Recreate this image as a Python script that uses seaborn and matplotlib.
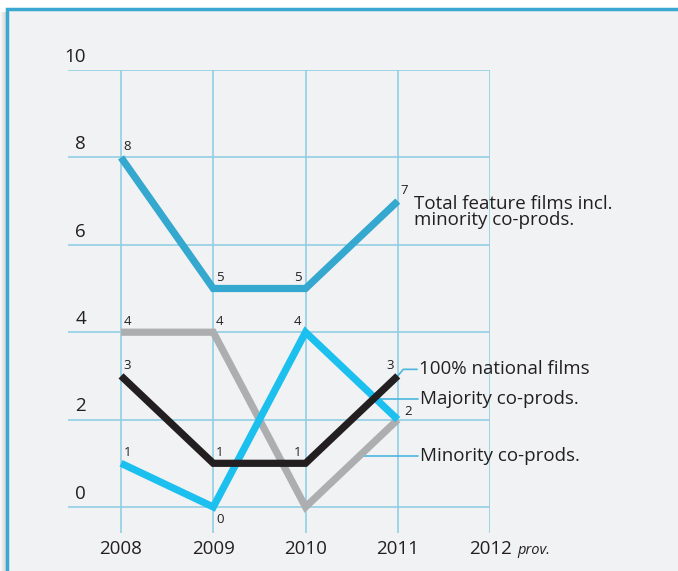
import matplotlib
matplotlib.use("Agg")
import matplotlib.pyplot as plt
from matplotlib.patches import Rectangle
import seaborn as sns
import pandas as pd

# data
years = [2008, 2009, 2010, 2011]
total_films = [8, 5, 5, 7]
minority = [4, 4, 0, 2]
majority = [1, 0, 4, 2]
national = [3, 1, 1, 3]
y_ticks = [0, 2, 4, 6, 8, 10]
x_ticks = [2008, 2009, 2010, 2011, 2012]

sns.set_theme(style="white")
plt.rcParams["font.family"] = ["Open Sans", "DejaVu Sans"]

W, H = 678, 571
fig = plt.figure(figsize=(W / 100, H / 100), dpi=100)
fig.patch.set_facecolor("white")

# background frame with a soft shadow on the left, in pixel coordinates
bg = fig.add_axes([0, 0, 1, 1], zorder=-1)
bg.set_xlim(0, W)
bg.set_ylim(H, 0)
bg.axis("off")
for i in range(7, 0, -1):
    bg.add_patch(Rectangle((7 - i, 12), 700, 600, facecolor="#8a8a8a",
                           edgecolor="none", alpha=0.06))
bg.add_patch(Rectangle((7, 9), 700, 600, facecolor="#f1f2f4", edgecolor="#3aa8d0", lw=2.5))

ax = fig.add_axes([68 / W, (H - 533) / H, (490 - 68) / W, (533 - 70) / H])
ax.set_facecolor("none")
ax.set_xlim(2007.425, 2012)
ax.set_ylim(-0.595, 10)
for s in ax.spines.values():
    s.set_visible(False)

grid_c = "#93cfe6"
ax.set_xticks(x_ticks)
ax.set_yticks(y_ticks)
ax.grid(True, color=grid_c, lw=1.2)
ax.set_axisbelow(True)
ax.tick_params(length=0, labelleft=False, pad=5)
labels = ax.set_xticklabels([str(x) for x in x_ticks], fontsize=13.5, color="#231f20")
for t in labels:
    t.set_verticalalignment("top")

fig.canvas.draw()
# put "prov." on the same baseline as the 2012 tick label
bb = labels[-1].get_window_extent()
ax.annotate("prov.", (bb.x1, bb.y0), xycoords="figure pixels", xytext=(4, 3.2),
            textcoords="offset points", style="italic", fontsize=10.5,
            color="#231f20", ha="left", va="baseline", annotation_clip=False)

for v in y_ticks:
    ax.annotate(str(v), (2007.62, v), xytext=(0, 3), textcoords="offset points",
                ha="right", va="bottom", fontsize=13.5, color="#231f20",
                annotation_clip=False)

df = pd.DataFrame({"year": years, "total": total_films, "minority": minority,
                   "majority": majority, "national": national})

series = [
    ("minority", "#adaeb0", 2),
    ("total", "#35a8cf", 3),
    ("majority", "#1bc0ef", 4),
    ("national", "#231f20", 5),
]
for col, c, z in series:
    sns.lineplot(data=df, x="year", y=col, color=c, lw=5.2, ax=ax, zorder=z,
                 solid_joinstyle="miter", solid_capstyle="butt")
ax.set_xlabel("")
ax.set_ylabel("")

# value labels: which points carry a label, and on which side
label_side = {
    "total": ["r", "r", "l", "r"],
    "minority": ["r", "r", None, None],
    "majority": ["r", "b", "l", "r2"],
    "national": ["r", "r", "l", "l"],
}
for col, sides in label_side.items():
    for x, y, side in zip(years, df[col], sides):
        if side is None:
            continue
        if side == "r":
            off, ha, va = (2, 3), "left", "bottom"
        elif side == "l":
            off, ha, va = (-3, 3), "right", "bottom"
        elif side == "b":
            off, ha, va = (2, -4), "left", "top"
        else:
            off, ha, va = (5, 1), "left", "bottom"
        ax.annotate(str(y), (x, y), xytext=off, textcoords="offset points",
                    ha=ha, va=va, fontsize=9.5, color="#231f20", zorder=6)

# series names with leader lines
lead_c = "#4cb6de"
txt_kw = dict(fontsize=13.5, color="#231f20", ha="left", va="center", clip_on=False)
ax.text(2011.18, 6.75, "Total feature films incl.\nminority co-prods.",
        linespacing=0.92, **txt_kw)
ax.plot([2011, 2011.06, 2011.21], [3.0, 3.15, 3.15], color=lead_c, lw=1.2,
        clip_on=False, zorder=1)
ax.text(2011.23, 3.15, "100% national films", **txt_kw)
ax.plot([2010.76, 2011.22], [2.48, 2.48], color=lead_c, lw=1.2, clip_on=False, zorder=1)
ax.text(2011.24, 2.48, "Majority co-prods.", **txt_kw)
ax.plot([2010.62, 2011.22], [1.17, 1.17], color=lead_c, lw=1.2, clip_on=False, zorder=1)
ax.text(2011.24, 1.17, "Minority co-prods.", **txt_kw)

fig.savefig("out.png", dpi=100)
